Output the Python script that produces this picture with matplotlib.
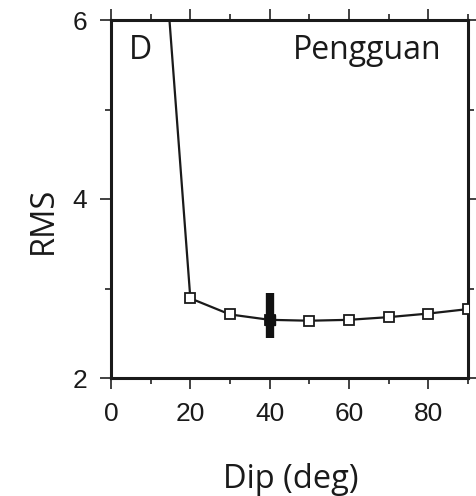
"""
RMS misfit vs. fault dip - Pengguan
"""
import matplotlib
matplotlib.use("Agg")
import matplotlib.pyplot as plt

dip = [10, 20, 30, 40, 50, 60, 70, 80, 90]
rms = [8.8, 2.89, 2.71, 2.65, 2.64, 2.65, 2.68, 2.72, 2.77]
best_dip = 40
best_range = [2.45, 2.95]
x_ticks = [0, 20, 40, 60, 80]
y_ticks = [2, 4, 6]

LABEL_FONT = "Open Sans"
TICK_FONT = "Liberation Sans"


def plot():
    fig = plt.figure(figsize=(4.76, 4.96), dpi=100)
    ax = fig.add_axes([111 / 476, 1 - 378 / 496, 357 / 476, 358 / 496])

    ax.plot(dip, rms, color="#1a1a1a", lw=1.6, marker="s", ms=7,
            mfc="white", mec="#1a1a1a", mew=1.3, zorder=3)
    ax.vlines(best_dip, best_range[0], best_range[1], color="#111111",
              lw=6, zorder=4)
    ax.plot([best_dip], [rms[dip.index(best_dip)]], marker="s", ms=7,
            color="#111111", zorder=5)

    ax.set_xlim(0, 90)
    ax.set_ylim(2, 6)
    ax.set_xticks(x_ticks)
    ax.set_xticks(range(0, 91, 10), minor=True)
    ax.set_yticks(y_ticks)
    ax.set_yticks([2, 3, 4, 5, 6], minor=True)
    ax.tick_params(which="both", direction="out", top=True, right=True,
                   width=1.3, color="#333333")
    ax.tick_params(which="major", length=8, labelsize=19, pad=9)
    ax.tick_params(which="minor", length=4.5)
    for lab in ax.get_xticklabels() + ax.get_yticklabels():
        lab.set_fontfamily(TICK_FONT)
        lab.set_color("#1a1a1a")
    for sp in ax.spines.values():
        sp.set_linewidth(2.2)
        sp.set_color("#1a1a1a")

    ax.text(0.05, 0.96, "D", transform=ax.transAxes, fontsize=23,
            family=LABEL_FONT, color="#1a1a1a", va="top", ha="left")
    ax.text(0.925, 0.96, "Pengguan", transform=ax.transAxes, fontsize=23,
            family=LABEL_FONT, color="#1a1a1a", va="top", ha="right")

    fig.text(291 / 476, 1 - 488 / 496, "Dip (deg)", fontsize=23.5,
             family=LABEL_FONT, color="#1a1a1a", ha="center",
             va="baseline")
    fig.text(43 / 476, 1 - 220 / 496, "RMS", fontsize=23.5,
             family=LABEL_FONT, color="#1a1a1a", ha="center",
             va="center", rotation=90)

    fig.savefig("out.png", dpi=100)


if __name__ == "__main__":
    plot()
